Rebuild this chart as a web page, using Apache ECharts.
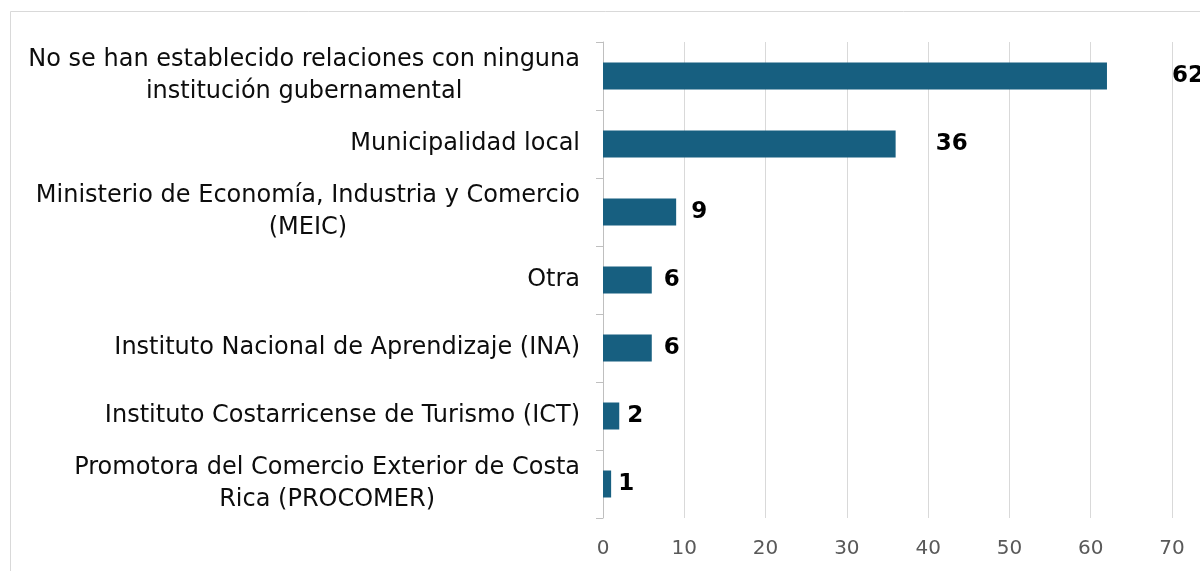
<!DOCTYPE html>
<html>
<head>
<meta charset="utf-8">
<script src="https://cdn.jsdelivr.net/npm/echarts@6/dist/echarts.min.js"></script>
<style>
  html, body { margin: 0; padding: 0; background: #ffffff; }
  #chart { width: 1200px; height: 571px; }
</style>
</head>
<body>
<div id="chart"></div>
<script>
// categories, top to bottom
let categories = [
  'No se han establecido relaciones con ninguna\ninstitución gubernamental',
  'Municipalidad local',
  'Ministerio de Economía, Industria y Comercio\n(MEIC)',
  'Otra',
  'Instituto Nacional de Aprendizaje (INA)',
  'Instituto Costarricense de Turismo (ICT)',
  'Promotora del Comercio Exterior de Costa\nRica (PROCOMER)'
];
let values = [62, 36, 9, 6, 6, 2, 1];
let xTicks = [0, 10, 20, 30, 40, 50, 60, 70];

let FONT = '"DejaVu Sans", "Liberation Sans", Arial, sans-serif';

let myChart = echarts.init(document.getElementById('chart'));

// Excel pushed the value labels further out on longer bars
let barData = values.map(function(v){
  return {
    value: v,
    label: { distance: Math.round(0.95 * v + 6) }
  };
});

let options = {
  animation: false,
  backgroundColor: '#ffffff',
  graphic: [{
    type: 'rect',
    shape: { x: 10.5, y: 11.5, width: 1400, height: 800 },
    style: { fill: 'none', stroke: '#d9d9d9', lineWidth: 1 },
    silent: true
  }],
  grid: {
    left: 603,
    right: 28,
    top: 42,
    bottom: 53,
    containLabel: false
  },
  xAxis: {
    type: 'value',
    min: xTicks[0],
    max: xTicks[xTicks.length - 1],
    interval: xTicks[1] - xTicks[0],
    axisLine: { show: false },
    axisTick: { show: false },
    splitLine: { show: true, lineStyle: { color: '#d9d9d9', width: 1 } },
    axisLabel: {
      color: '#595959',
      fontSize: 20,
      fontFamily: FONT,
      margin: 21
    }
  },
  yAxis: {
    type: 'category',
    inverse: true,
    data: categories,
    axisLine: { show: true, lineStyle: { color: '#bfbfbf', width: 1 } },
    axisTick: { show: true, length: 7, lineStyle: { color: '#bfbfbf' } },
    splitLine: { show: false },
    axisLabel: {
      margin: 23,
      align: 'right',
      formatter: function(value){
        return value.split('\n').map(function(line){
          return '{c|' + line + '}';
        }).join('\n');
      },
      rich: {
        c: {
          align: 'center',
          fontSize: 24,
          lineHeight: 32,
          fontFamily: FONT,
          color: '#0d0d0d'
        }
      }
    }
  },
  series: [{
    type: 'bar',
    data: barData,
    barWidth: 27,
    itemStyle: { color: '#175f80' },
    label: {
      show: true,
      position: 'right',
      color: '#000000',
      fontWeight: 'bold',
      fontSize: 23,
      fontFamily: FONT
    }
  }]
};

myChart.setOption(options);
</script>
</body>
</html>
